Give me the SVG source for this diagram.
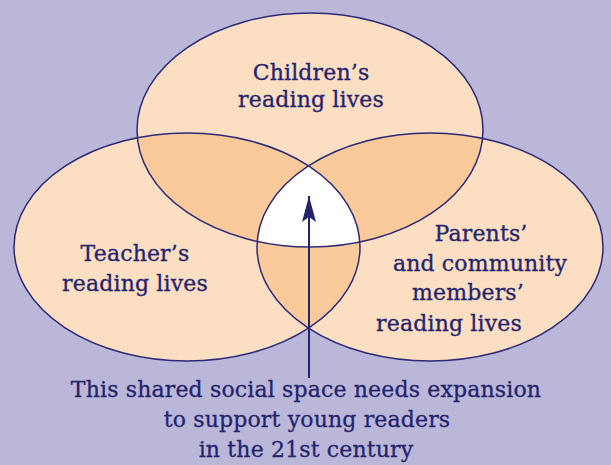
<svg xmlns="http://www.w3.org/2000/svg" width="611" height="465" viewBox="0 0 611 465">
<style>
.txt{font-family:'DejaVu Serif','Liberation Serif',serif;font-size:22px;letter-spacing:0.15px;fill:#24246e;stroke:#24246e;stroke-width:0.3px;text-anchor:middle}
.out{fill:none;stroke:#2b2a78;stroke-width:1.5}
</style>
<defs>
<ellipse id="eT" cx="310" cy="130" rx="173" ry="117"/>
<ellipse id="eL" cx="187" cy="247" rx="173" ry="114"/>
<ellipse id="eR" cx="430" cy="247" rx="173" ry="114"/>
<clipPath id="cT"><use href="#eT"/></clipPath>
<clipPath id="cL"><use href="#eL"/></clipPath>
<clipPath id="cR"><use href="#eR"/></clipPath>
<marker id="ah" viewBox="0 0 26 14" refX="26" refY="7" markerWidth="26" markerHeight="14" markerUnits="userSpaceOnUse" orient="auto">
<path d="M26,7 L0,0 L5,7 L0,14 Z" fill="#24246e"/>
</marker>
</defs>
<rect width="611" height="465" fill="#bbb7d8"/>
<g id="fills">
<use href="#eT" fill="#fcdec2"/>
<use href="#eL" fill="#fcdec2"/>
<use href="#eR" fill="#fcdec2"/>
<g clip-path="url(#cT)"><use href="#eL" fill="#fbca9a"/><use href="#eR" fill="#fbca9a"/></g>
<g clip-path="url(#cL)"><use href="#eR" fill="#fbca9a"/></g>
<g clip-path="url(#cT)"><g clip-path="url(#cL)"><use href="#eR" fill="#ffffff"/></g></g>
</g>
<g id="children"><use href="#eT" class="out"/>
<text class="txt" x="311" y="80">Children’s</text>
<text class="txt" x="311" y="107">reading lives</text></g>
<g id="teachers"><use href="#eL" class="out"/>
<text class="txt" x="135" y="261">Teacher’s</text>
<text class="txt" x="135" y="291">reading lives</text></g>
<g id="parents"><use href="#eR" class="out"/>
<text class="txt" x="481" y="241">Parents’</text>
<text class="txt" x="480" y="271">and community</text>
<text class="txt" x="468" y="300">members’</text>
<text class="txt" x="449" y="331">reading lives</text></g>
<g id="connectors">
<line x1="309" y1="378" x2="309" y2="196" stroke="#24246e" stroke-width="2" marker-end="url(#ah)"/>
</g>
<g id="caption">
<text class="txt" x="306" y="397">This shared social space needs expansion</text>
<text class="txt" x="307" y="427">to support young readers</text>
<text class="txt" x="306" y="457">in the 21st century</text>
</g>
</svg>
